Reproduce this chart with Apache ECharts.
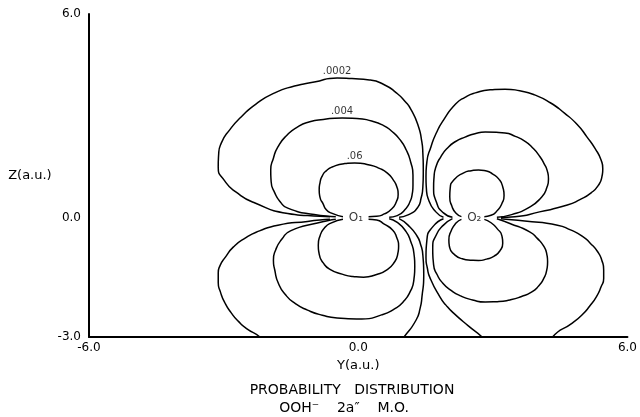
<!DOCTYPE html>
<html>
<head>
<meta charset="utf-8">
<script src="https://cdn.jsdelivr.net/npm/echarts@6/dist/echarts.min.js"></script>
<style>
  html, body { margin: 0; padding: 0; background: #fff; }
  #chart { width: 640px; height: 417px; }
</style>
</head>
<body>
<div id="chart"></div>
<script>
// Horizontal axis is Y (a.u.), vertical axis is Z (a.u.).
const Y_TICKS = [-6, 0, 6];
const Y_TICK_LABELS = ['-6.0', '0.0', '6.0'];
const Z_TICKS = [-3.5, 0, 6];
const Z_TICK_LABELS = ['-3.0', '0.0', '6.0'];

// Oxygen nuclei on the O-O axis
const ATOM_NAMES = ['O\u2081', 'O\u2082'];
const ATOM_Y = [-0.12, 2.52];
const ATOM_Z = [0, 0];

// Contour levels of |psi|^2
const LEVELS = ['.0002', '.004', '.06'];

// O1 lobes, [Y, Z] pairs
const o1Upper0002 = [[-0.63,0.04],[-1.13,0.07],[-1.57,0.13],[-2.30,0.44],[-2.72,0.76],[-2.98,1.10],[-3.12,1.50],[-3.11,1.88],[-3.05,2.21],[-2.86,2.60],[-2.61,2.97],[-2.28,3.35],[-1.86,3.68],[-1.42,3.88],[-0.98,4.00],[-0.47,4.12],[-0.14,4.10],[0.25,4.06],[0.58,3.92],[0.85,3.68],[1.05,3.42],[1.18,3.18],[1.33,2.74],[1.41,2.30],[1.44,1.91],[1.45,1.40],[1.44,0.91],[1.40,0.58],[1.33,0.32],[1.11,0.09],[0.91,0.02]];
const o1Lower0002 = [[-0.63,-0.04],[-1.13,-0.10],[-1.79,-0.21],[-2.20,-0.38],[-2.52,-0.59],[-2.78,-0.85],[-2.96,-1.15],[-3.08,-1.40],[-3.12,-1.62],[-3.12,-1.90],[-3.07,-2.18],[-2.97,-2.50],[-2.83,-2.79],[-2.67,-3.04],[-2.48,-3.26],[-2.19,-3.50],[-1.90,-3.88],[0.74,-3.94],[1.02,-3.50],[1.29,-3.00],[1.38,-2.65],[1.42,-2.32],[1.46,-1.68],[1.44,-1.09],[1.39,-0.78],[1.31,-0.53],[1.11,-0.21],[0.91,-0.02]];
const o1Upper004 = [[-0.50,0.04],[-0.98,0.10],[-1.57,0.29],[-1.74,0.48],[-1.86,0.74],[-1.94,1.06],[-1.95,1.41],[-1.89,1.76],[-1.79,2.09],[-1.60,2.42],[-1.35,2.68],[-1.08,2.83],[-0.78,2.90],[-0.36,2.94],[-0.03,2.93],[0.30,2.85],[0.55,2.73],[0.74,2.56],[0.92,2.32],[1.07,2.00],[1.17,1.64],[1.22,1.26],[1.22,0.96],[1.20,0.68],[1.15,0.47],[1.07,0.29],[0.87,0.07],[0.69,0.02]];
const o1Lower004 = [[-0.50,-0.04],[-0.91,-0.15],[-1.51,-0.38],[-1.70,-0.62],[-1.84,-0.94],[-1.89,-1.24],[-1.86,-1.53],[-1.78,-1.92],[-1.62,-2.26],[-1.40,-2.52],[-1.13,-2.71],[-0.80,-2.86],[-0.47,-2.94],[0.08,-2.97],[0.52,-2.85],[0.80,-2.68],[1.00,-2.47],[1.16,-2.16],[1.24,-1.82],[1.26,-1.42],[1.24,-1.03],[1.17,-0.69],[1.07,-0.41],[0.87,-0.13],[0.69,-0.02]];
const o1Upper06 = [[-0.34,0.04],[-0.61,0.15],[-0.72,0.26],[-0.78,0.41],[-0.85,0.60],[-0.87,0.82],[-0.85,1.05],[-0.80,1.24],[-0.72,1.38],[-0.58,1.50],[-0.30,1.60],[-0.08,1.62],[0.25,1.56],[0.47,1.46],[0.65,1.32],[0.78,1.12],[0.86,0.92],[0.89,0.70],[0.85,0.48],[0.75,0.27],[0.58,0.12],[0.41,0.05],[0.23,0.04]];
const o1Lower06 = [[-0.34,-0.04],[-0.61,-0.15],[-0.75,-0.29],[-0.85,-0.52],[-0.89,-0.80],[-0.87,-1.06],[-0.78,-1.32],[-0.63,-1.51],[-0.36,-1.65],[-0.12,-1.72],[0.12,-1.74],[0.41,-1.66],[0.63,-1.53],[0.80,-1.31],[0.88,-1.06],[0.90,-0.82],[0.86,-0.58],[0.77,-0.36],[0.58,-0.18],[0.41,-0.06],[0.23,-0.04]];

// O2 lobes, [Y, Z] pairs
const o2Upper0002 = [[1.90,0.02],[1.73,0.18],[1.57,0.53],[1.52,0.85],[1.51,1.21],[1.53,1.65],[1.62,2.09],[1.74,2.50],[1.90,2.88],[2.17,3.35],[2.38,3.55],[2.61,3.68],[2.94,3.77],[3.27,3.79],[3.60,3.74],[3.93,3.62],[4.28,3.39],[4.59,3.09],[4.88,2.75],[5.10,2.38],[5.28,2.04],[5.41,1.71],[5.45,1.45],[5.43,1.21],[5.35,0.96],[5.19,0.74],[4.94,0.54],[4.66,0.38],[4.04,0.18],[3.49,0.04],[3.18,0.02]];
const o2Lower0002 = [[1.90,-0.02],[1.66,-0.26],[1.53,-0.65],[1.51,-1.18],[1.54,-1.47],[1.60,-1.76],[1.82,-2.32],[1.96,-2.57],[2.12,-2.79],[2.46,-3.18],[2.76,-3.50],[3.01,-3.88],[4.19,-3.94],[4.33,-3.50],[4.77,-3.09],[4.98,-2.86],[5.16,-2.59],[5.31,-2.31],[5.41,-2.03],[5.47,-1.78],[5.47,-1.53],[5.43,-1.25],[5.34,-1.00],[5.17,-0.74],[4.99,-0.53],[4.73,-0.35],[4.44,-0.21],[3.71,-0.09],[3.18,-0.02]];
const o2Upper004 = [[2.10,0.02],[1.90,0.15],[1.75,0.44],[1.68,0.91],[1.69,1.21],[1.73,1.50],[1.84,1.80],[1.99,2.06],[2.17,2.25],[2.38,2.38],[2.60,2.48],[2.83,2.53],[3.27,2.50],[3.50,2.40],[3.71,2.26],[3.89,2.06],[4.04,1.82],[4.15,1.58],[4.21,1.40],[4.24,1.15],[4.20,0.88],[4.07,0.59],[3.78,0.29],[3.42,0.10],[3.09,0.02]];
const o2Lower004 = [[2.10,-0.02],[1.90,-0.21],[1.75,-0.47],[1.66,-0.88],[1.68,-1.38],[1.76,-1.67],[1.88,-1.91],[2.06,-2.12],[2.28,-2.29],[2.55,-2.41],[2.83,-2.47],[3.10,-2.46],[3.38,-2.41],[3.64,-2.31],[3.86,-2.18],[4.02,-2.00],[4.13,-1.79],[4.20,-1.54],[4.22,-1.29],[4.20,-1.05],[4.13,-0.82],[3.99,-0.60],[3.82,-0.41],[3.38,-0.16],[3.09,-0.02]];
const o2Upper06 = [[2.30,0.04],[2.18,0.14],[2.09,0.34],[2.04,0.62],[2.05,0.88],[2.14,1.13],[2.34,1.32],[2.52,1.39],[2.68,1.41],[2.86,1.38],[2.99,1.30],[3.13,1.15],[3.22,0.92],[3.25,0.66],[3.20,0.42],[3.10,0.22],[2.96,0.08],[2.81,0.04]];
const o2Lower06 = [[2.30,-0.04],[2.18,-0.15],[2.07,-0.38],[2.02,-0.65],[2.04,-0.88],[2.14,-1.07],[2.32,-1.20],[2.50,-1.24],[2.68,-1.25],[2.86,-1.21],[3.03,-1.12],[3.16,-0.96],[3.22,-0.74],[3.20,-0.52],[3.10,-0.32],[2.96,-0.14],[2.81,-0.04]];

const FONT = 'DejaVu Sans';
const INK = '#000';

// level index: 0 -> .0002, 1 -> .004, 2 -> .06 ; labelled lobes carry their level text
const contours = [
  { level: 0, data: o1Upper0002, labelled: true },
  { level: 0, data: o1Lower0002 },
  { level: 1, data: o1Upper004, labelled: true },
  { level: 1, data: o1Lower004 },
  { level: 2, data: o1Upper06, labelled: true },
  { level: 2, data: o1Lower06 },
  { level: 0, data: o2Upper0002 },
  { level: 0, data: o2Lower0002 },
  { level: 1, data: o2Upper004 },
  { level: 1, data: o2Lower004 },
  { level: 2, data: o2Upper06 },
  { level: 2, data: o2Lower06 }
];

const lineSeries = contours.map(c => ({
  type: 'line',
  data: c.data,
  smooth: 0.6,
  symbol: 'none',
  clip: true,
  silent: true,
  lineStyle: { color: INK, width: 1.5 },
  z: 2
}));

// level labels sit above the crest of each labelled lobe
const levelLabelData = contours.filter(c => c.labelled).map(c => {
  const top = c.data.reduce((a, b) => (b[1] > a[1] ? b : a));
  return { value: top, levelText: LEVELS[c.level] };
});

const levelLabelSeries = {
  type: 'scatter',
  data: levelLabelData,
  symbolSize: 0.01,
  itemStyle: { color: 'transparent' },
  silent: true,
  label: {
    show: true,
    position: 'top',
    distance: 2,
    formatter: p => p.data.levelText,
    color: INK,
    fontFamily: FONT,
    fontSize: 10
  },
  z: 3
};

const atomSeries = {
  type: 'scatter',
  data: ATOM_Y.map((y, i) => ({ value: [y, ATOM_Z[i]], name: ATOM_NAMES[i] })),
  symbolSize: 0.01,
  itemStyle: { color: 'transparent' },
  silent: true,
  label: {
    show: true,
    position: 'inside',
    offset: [3, 0],
    formatter: p => p.name,
    color: INK,
    fontFamily: FONT,
    fontSize: 12
  },
  z: 3
};

const chart = echarts.init(document.getElementById('chart'), null, { renderer: 'canvas' });

chart.setOption({
  animation: false,
  backgroundColor: '#fff',
  grid: { left: 89, right: 6, top: 14, bottom: 80, containLabel: false },
  xAxis: {
    type: 'value',
    min: Y_TICKS[0],
    max: Y_TICKS[Y_TICKS.length - 1],
    axisLine: { show: true, onZero: false, lineStyle: { color: '#000', width: 2 } },
    axisTick: { show: false },
    splitLine: { show: false },
    axisLabel: {
      customValues: Y_TICKS,
      formatter: v => Y_TICK_LABELS[Y_TICKS.indexOf(v)],
      color: INK, fontFamily: FONT, fontSize: 12, margin: 5
    },
    name: 'Y(a.u.)',
    nameLocation: 'middle',
    nameGap: 22,
    nameTextStyle: { color: INK, fontFamily: FONT, fontSize: 13 }
  },
  yAxis: {
    type: 'value',
    min: Z_TICKS[0],
    max: Z_TICKS[Z_TICKS.length - 1],
    axisLine: { show: true, onZero: false, lineStyle: { color: '#000', width: 2 } },
    axisTick: { show: false },
    splitLine: { show: false },
    axisLabel: {
      customValues: Z_TICKS,
      formatter: v => Z_TICK_LABELS[Z_TICKS.indexOf(v)],
      color: INK, fontFamily: FONT, fontSize: 12, margin: 8
    },
    name: 'Z(a.u.)',
    nameLocation: 'middle',
    nameRotate: 0,
    nameGap: 29,
    nameTextStyle: { color: INK, fontFamily: FONT, fontSize: 13 }
  },
  graphic: [
    {
      type: 'text', x: 352, y: 390,
      style: { text: 'PROBABILITY   DISTRIBUTION', align: 'center', verticalAlign: 'middle',
               fontFamily: FONT, fontSize: 14, fill: INK }
    },
    {
      type: 'text', x: 344, y: 408,
      style: { text: 'OOH\u207B    2a\u2033    M.O.', align: 'center', verticalAlign: 'middle',
               fontFamily: FONT, fontSize: 14, fill: INK }
    }
  ],
  series: [...lineSeries, levelLabelSeries, atomSeries]
});
</script>
</body>
</html>
